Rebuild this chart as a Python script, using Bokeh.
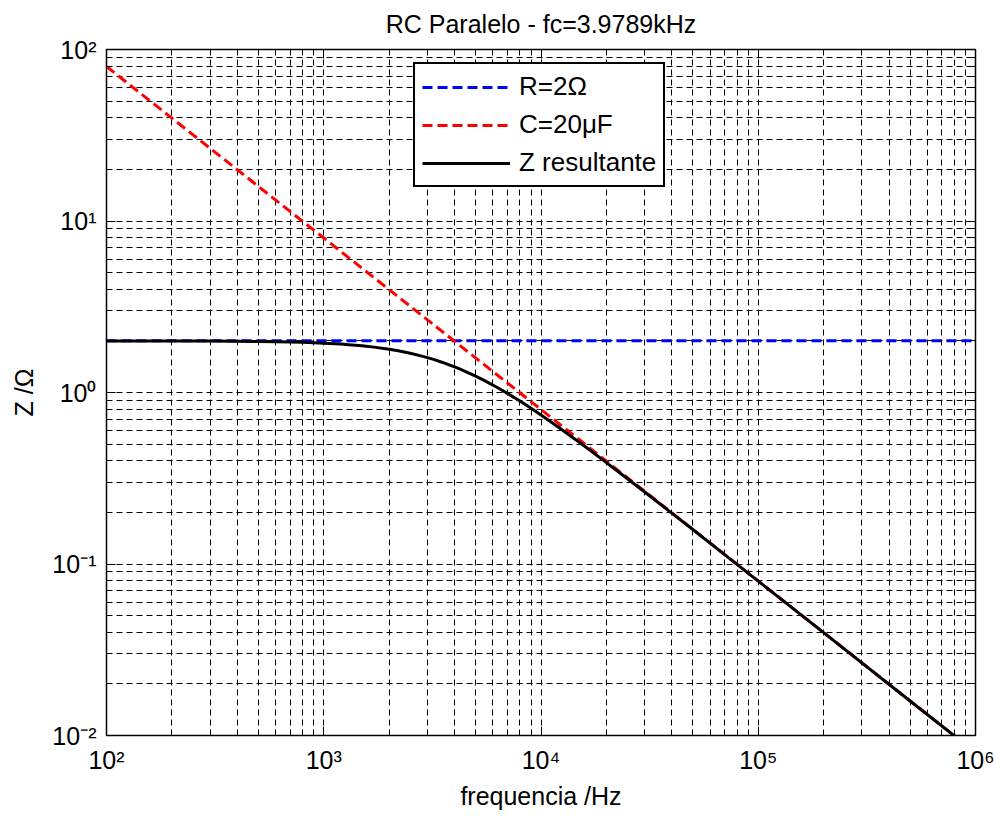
from bokeh.plotting import figure
from bokeh.models import (Range1d, FixedTicker, LogAxis, Legend, LegendItem,
                          CustomLabelingPolicy)
from bokeh.embed import file_html
from bokeh.resources import INLINE

# Parallel RC impedance versus frequency (R = 2 ohm, C = 20 uF)
freq_hz = [100, 200, 300, 500, 600, 700, 800, 900, 1000, 1200, 1300, 1500, 1700,
           2000, 2200, 2500, 2800, 3000, 3200, 3500, 3700, 4000, 4200, 4500, 4800,
           5000, 5500, 6000, 6500, 7000, 7500, 8000, 9000, 10000, 11000, 12000,
           13000, 15000, 17000, 20000, 25000, 30000, 40000, 50000, 70000, 100000,
           200000, 500000, 1000000]
z_total_ohm = [1.999, 1.997, 1.994, 1.984, 1.978, 1.970, 1.961, 1.951, 1.940, 1.915,
               1.901, 1.871, 1.839, 1.787, 1.750, 1.694, 1.636, 1.597, 1.559, 1.502,
               1.465, 1.411, 1.376, 1.325, 1.276, 1.245, 1.172, 1.105, 1.044, 0.988,
               0.937, 0.891, 0.809, 0.739, 0.680, 0.629, 0.585, 0.513, 0.456, 0.390,
               0.314, 0.263, 0.198, 0.159, 0.1135, 0.0795, 0.0398, 0.0159, 0.00796]

r_freq_hz = [100, 1000000]
r_ohm = [2.0, 2.0]

c_freq_hz = [100, 1000000]
c_ohm = [79.6, 0.00796]

x_ticks = [1e2, 1e3, 1e4, 1e5, 1e6]
x_tick_labels = ["10²", "10³", "10⁴", "10⁵", "10⁶"]
y_ticks = [1e-2, 1e-1, 1e0, 1e1, 1e2]
y_tick_labels = ["10⁻²", "10⁻¹", "10⁰", "10¹", "10²"]

FONT = "Liberation Sans"


def decade_minors(lo_exp, hi_exp):
    return [k * 10.0 ** e for e in range(lo_exp, hi_exp) for k in range(2, 10)]


x_ticker = FixedTicker(ticks=x_ticks, minor_ticks=decade_minors(2, 6))
y_ticker = FixedTicker(ticks=y_ticks, minor_ticks=decade_minors(-2, 2))

p = figure(
    width=995, height=819,
    frame_width=869, frame_height=686,
    x_axis_type="log", y_axis_type="log",
    x_range=Range1d(1e2, 1e6), y_range=Range1d(1e-2, 1e2),
    output_backend="svg", toolbar_location=None,
    min_border_left=106, min_border_right=20,
    min_border_top=49, min_border_bottom=84,
    background_fill_color="white", border_fill_color="white",
)

p.title.text = "RC Paralelo - fc=3.9789kHz"
p.title.align = "center"
p.title.text_font = FONT
p.title.text_font_size = "25px"
p.title.text_font_style = "normal"
p.title.text_color = "black"
p.title.text_line_height = 1.0
p.title.standoff = 14

p.outline_line_color = "black"
p.outline_line_width = 1.5
p.outline_line_alpha = 1.0

# Dashed major and minor grid
for grid, ticker in ((p.xgrid, x_ticker), (p.ygrid, y_ticker)):
    grid.ticker = ticker
    grid.grid_line_color = "black"
    grid.grid_line_alpha = 1.0
    grid.grid_line_width = 1
    grid.grid_line_dash = "6 4"
    grid.minor_grid_line_color = "black"
    grid.minor_grid_line_alpha = 1.0
    grid.minor_grid_line_width = 1
    grid.minor_grid_line_dash = "6 4"

# labels of the mirrored top/right axes are filtered out
hide_all = CustomLabelingPolicy(code="for (const i of indices) { indices.unset(i) } return indices")


def style_axis(ax, ticker, labels_on):
    ax.ticker = ticker
    ax.axis_line_color = "black"
    ax.axis_line_width = 1
    ax.major_tick_in = 9
    ax.major_tick_out = 0
    ax.minor_tick_in = 5
    ax.minor_tick_out = 0
    ax.major_tick_line_color = "black"
    ax.minor_tick_line_color = "black"
    ax.major_label_text_font = FONT
    ax.major_label_text_color = "black"
    ax.axis_label_text_font = FONT
    ax.axis_label_text_font_style = "normal"
    ax.axis_label_text_color = "black"
    ax.axis_label_text_font_size = "25px"
    if labels_on:
        ax.major_label_text_font_size = "25px"
    else:
        ax.major_label_text_font_size = "1px"
        ax.major_label_standoff = 0
        ax.major_label_policy = hide_all


xaxis = p.xaxis[0]
yaxis = p.yaxis[0]
style_axis(xaxis, x_ticker, True)
style_axis(yaxis, y_ticker, True)
xaxis.major_label_overrides = dict(zip(x_ticks, x_tick_labels))
yaxis.major_label_overrides = dict(zip(y_ticks, y_tick_labels))
xaxis.axis_label = "frequencia /Hz"
yaxis.axis_label = "Z /Ω"
xaxis.major_label_standoff = 10
yaxis.major_label_standoff = 10
xaxis.axis_label_standoff = 5
yaxis.axis_label_standoff = 11

top_axis = LogAxis()
right_axis = LogAxis()
style_axis(top_axis, x_ticker, False)
style_axis(right_axis, y_ticker, False)
p.add_layout(top_axis, "above")
p.add_layout(right_axis, "right")

# Curves: resistor, capacitor reactance, resulting impedance
r_line = p.line(r_freq_hz, r_ohm, line_color="#0000ff", line_width=3, line_dash="10 5")
c_line = p.line(c_freq_hz, c_ohm, line_color="#ff0000", line_width=3, line_dash="10 5")
z_line = p.line(freq_hz, z_total_ohm, line_color="black", line_width=3)

legend = Legend(
    items=[
        LegendItem(label="R=2Ω", renderers=[r_line]),
        LegendItem(label="C=20μF", renderers=[c_line]),
        LegendItem(label="Z resultante", renderers=[z_line]),
    ],
    location=(307, 548),
    margin=0,
    padding=7,
    spacing=7,
    glyph_width=88,
    glyph_height=28,
    label_height=28,
    label_standoff=9,
    label_text_font=FONT,
    label_text_font_size="26px",
    label_text_color="black",
    border_line_color="black",
    border_line_alpha=1.0,
    border_line_width=2,
    background_fill_color="white",
    background_fill_alpha=1.0,
)
p.add_layout(legend, "center")

open("out.html", "w").write(file_html(p, INLINE))
